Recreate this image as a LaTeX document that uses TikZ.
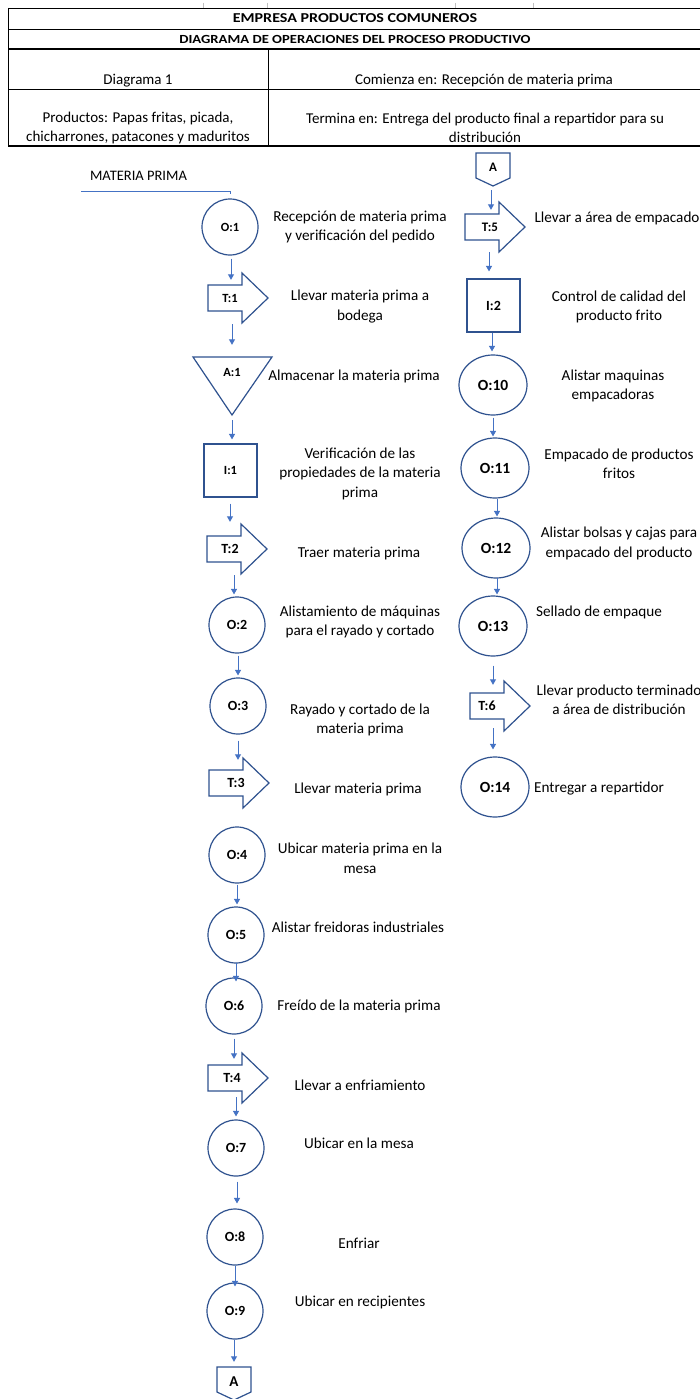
\documentclass[tikz,border=0pt]{standalone}
\usepackage{fontspec}
\setmainfont{Carlito}
\newfontfamily\hdrwide{Carlito}[FakeStretch=1.18]
\usetikzlibrary{calc,shapes.geometric,arrows.meta}
\definecolor{shpblue}{HTML}{2F528F}
\definecolor{arrblue}{HTML}{4472C4}
\newcommand\descfont{\fontsize{15.2}{19.5}\selectfont}
\newcommand\lb[1]{\fontsize{#1}{#1}\selectfont\bfseries}
\newcommand\hdrfont{\fontsize{15}{19.5}\selectfont}
\tikzset{
  shp/.style={draw=shpblue, line width=1.2pt, line join=miter},
  opc/.style={shp, circle, minimum size=56pt, inner sep=0pt, font=\lb{14}},
  ope/.style={shp, ellipse, minimum width=68pt, minimum height=60pt, inner sep=0pt, font=\lb{15.5}},
  insp/.style={shp, rectangle, minimum size=53pt, inner sep=0pt, font=\lb{13}},
  lbl/.style={inner sep=0pt},
  desc/.style={font=\descfont, align=center, inner sep=0pt},
  hdr/.style={font=\hdrfont, align=center, inner sep=0pt},
  arr/.style={draw=arrblue, line width=0.9pt, -{Triangle[width=6pt,length=5.5pt]}},
  rule/.style={draw=black, line width=0.8pt},
  thickrule/.style={draw=black, line width=1.8pt},
}
% transport arrow: name, x of junction, y centre, label, label offset, label size
\newcommand\transport[6]{%
  \draw[shp] (#2-34,#3-13) -- (#2,#3-13) -- (#2,#3-25) -- (#2+26,#3) -- (#2,#3+25) -- (#2,#3+13) -- (#2-34,#3+13) -- cycle;
  \node[inner sep=0pt, minimum width=60pt, minimum height=50pt] (#1) at (#2-4,#3) {};
  \node[lbl, font=\lb{#6}] (#1l) at (#2-#5,#3) {#4};}
% off-page connector: name, centre x, top y, label, label offset, label size
\newcommand\offpage[6]{%
  \draw[shp] (#2-17,#3) -- (#2+17,#3) -- (#2+17,#3+25) -- (#2,#3+33) -- (#2-17,#3+25) -- cycle;
  \node[inner sep=0pt, minimum width=34pt, minimum height=33pt] (#1) at (#2,#3+16.5) {};
  \node[lbl, font=\lb{#6}] (#1l) at (#2,#3+#5) {#4};}
% flow arrow: src, dst, dx, start offset below src.south, end offset below dst.north
\newcommand\flow[5]{\draw[arr] ($(#1.south)+(#3,#4)$) -- ($(#1.south |- #2.north)+(#3,#5)$);}
\begin{document}
\begin{tikzpicture}[x=1pt,y=-1pt]
\useasboundingbox (0,0) rectangle (700,1399);
\fill[white] (0,0) rectangle (700,1399);

% ---------- header table ----------
\foreach \xx in {203,267,455,533} \draw[black!25, line width=0.6pt] (\xx,3) -- (\xx,8);
\draw[rule] (8,8) -- (700,8);
\draw[rule] (8,29) -- (700,29);
\draw[thickrule] (8,49) -- (700,49);
\draw[rule] (8,89) -- (700,89);
\draw[thickrule] (8,146) -- (700,146);
\draw[rule] (8,8) -- (8,146);
\draw[rule] (268,49) -- (268,146);
\node[inner sep=0pt, font=\hdrwide\fontsize{13.6}{16}\selectfont\bfseries] (h1) at (355,18.5) {EMPRESA PRODUCTOS COMUNEROS};
\node[inner sep=0pt, font=\hdrwide\fontsize{12.4}{14}\selectfont\bfseries] (h2) at (355,39.5) {DIAGRAMA DE OPERACIONES DEL PROCESO PRODUCTIVO};
\node[hdr] (h3) at (138,81) {Diagrama 1};
\node[hdr] (h4) at (484,81) {Comienza en: Recepción de materia prima};
\node[hdr] (h5) at (138,128) {Productos: Papas fritas, picada,\\chicharrones, patacones y maduritos};
\node[hdr] (h6) at (485,128) {Termina en: Entrega del producto final a repartidor para su\\distribución};

% ---------- left column ----------
\node[inner sep=0pt, font=\fontsize{14.5}{16}\selectfont] (mp) at (138.5,176) {MATERIA PRIMA};
\node[opc, font=\lb{12.5}] (o1) at (230,227) {O:1};
\coordinate (mpstart) at (81,191);
\draw[draw=arrblue, line width=0.9pt] (mpstart) -- (mpstart -| o1.north) -- ($(mpstart -| o1.north)+(0,3.5)$);
\node[desc] (d1) at (360,227) {Recepción de materia prima\\y verificación del pedido};

\transport{t1}{242}{298}{T:1}{12}{12.5}
\node[desc] (d2) at (360,306.5) {Llevar materia prima a\\bodega};

\draw[shp] (193,357) -- (272,357) -- (232,415) -- cycle;
\node[inner sep=0pt, minimum width=79pt, minimum height=58pt] (a1) at (232.5,386) {};
\node[lbl, font=\lb{12.5}] (a1l) at (232,372) {A:1};
\node[desc] (d3) at (354,376) {Almacenar la materia prima};

\node[insp, font=\lb{12.5}] (i1) at (230.5,470.5) {I:1};
\node[desc] (d4) at (360,473.5) {Verificación de las\\propiedades de la materia\\prima};

\transport{t2}{241}{549}{T:2}{11}{14}
\node[desc] (d5) at (359,553) {Traer materia prima};

\node[opc] (o2) at (237,625) {O:2};
\node[desc] (d6) at (360,622) {Alistamiento de máquinas\\para el rayado y cortado};

\node[opc] (o3) at (238,706) {O:3};
\node[desc] (d7) at (360,720) {Rayado y cortado de la\\materia prima};

\transport{t3}{243}{783}{T:3}{7}{14}
\node[desc] (d8) at (358,789) {Llevar materia prima};

\node[opc] (o4) at (237,855) {O:4};
\node[desc] (d9) at (360,858.5) {Ubicar materia prima en la\\mesa};

\node[opc] (o5) at (236,935) {O:5};
\node[desc] (d10) at (358,927) {Alistar freidoras industriales};

\node[opc] (o6) at (234,1006) {O:6};
\node[desc] (d11) at (359,1006) {Freído de la materia prima};

\transport{t4}{242}{1078}{T:4}{10}{14}
\node[desc] (d12) at (360,1085) {Llevar a enfriamiento};

\node[opc] (o7) at (236,1148) {O:7};
\node[desc] (d13) at (359,1143) {Ubicar en la mesa};

\node[opc] (o8) at (235,1237) {O:8};
\node[desc] (d14) at (359,1243) {Enfriar};

\node[opc] (o9) at (235,1311) {O:9};
\node[desc] (d15) at (360,1302) {Ubicar en recipientes};

\offpage{ab}{234}{1367}{A}{15}{15}

\flow{o1}{t1}{1}{3}{7}
\flow{t1}{a1}{-6}{1}{-12}
\flow{a1}{i1}{-0.5}{5}{-4}
\flow{i1}{t2}{-0.5}{6}{-2}
\flow{t2}{o2}{-3}{1}{-2}
\flow{o2}{o3}{1}{2}{-2}
\flow{o3}{t3}{0}{6}{2}
\flow{o4}{o5}{0}{1}{-2}
\flow{o5}{o6}{0}{-1}{4}
\flow{o6}{t4}{0}{4}{6}
\flow{t4}{o7}{-2}{-6}{-3}
\flow{o7}{o8}{1}{5}{-5}
\flow{o8}{o9}{0}{0}{4}
\flow{o9}{ab}{-1}{0}{-5}

% ---------- right column ----------
\offpage{at}{493}{153}{A}{14}{13}

\transport{t5}{499}{227}{T:5}{9}{13}
\node[desc] (e1) at (617,218) {Llevar a área de empacado};

\node[insp, font=\lb{14}] (i2) at (493.5,305.5) {I:2};
\node[desc] (e2) at (619,307) {Control de calidad del\\producto frito};

\node[ope] (o10) at (493,385) {O:10};
\node[desc] (e3) at (613,386) {Alistar maquinas\\empacadoras};

\node[ope] (o11) at (495,468) {O:11};
\node[desc] (e4) at (619,464) {Empacado de productos\\fritos};

\node[ope] (o12) at (496,548) {O:12};
\node[desc] (e5) at (619,543.5) {Alistar bolsas y cajas para\\empacado del producto};

\node[ope] (o13) at (493,626) {O:13};
\node[desc] (e6) at (599,612) {Sellado de empaque};

\transport{t6}{504}{706}{T:6}{17}{14}
\node[desc] (e7) at (619,700) {Llevar producto terminado\\a área de distribución};

\node[ope] (o14) at (495,787) {O:14};
\node[desc] (e8) at (599,789) {Entregar a repartidor};

\flow{at}{t5}{-2}{4}{8}
\flow{t5}{i2}{-6}{0}{-7}
\flow{i2}{o10}{-1.5}{0}{-3}
\flow{o10}{o11}{0}{2}{-1}
\flow{o11}{o12}{2}{0}{-1}
\flow{o12}{o13}{1}{-1}{-1}
\flow{o13}{t6}{0}{9}{4}
\flow{t6}{o14}{-7}{-3}{-7}
\end{tikzpicture}
\end{document}
